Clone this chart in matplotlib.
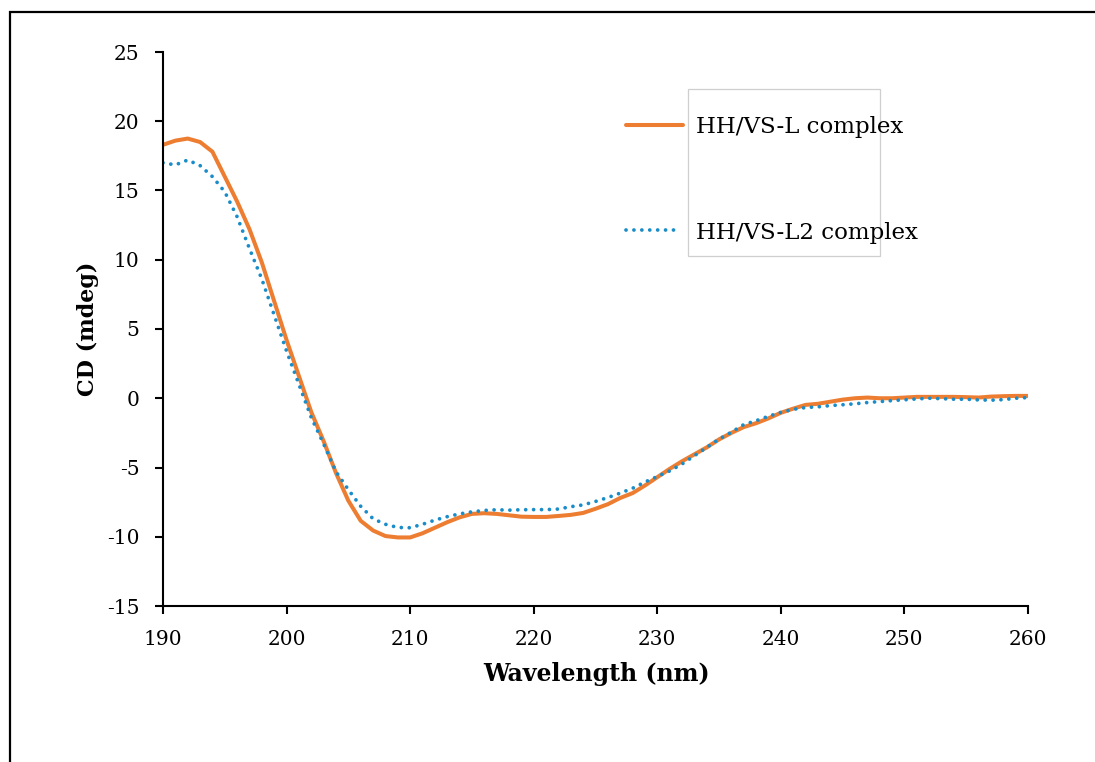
import matplotlib
matplotlib.use("Agg")
import matplotlib.pyplot as plt
from matplotlib.patches import Rectangle
from matplotlib.lines import Line2D
import numpy as np

wavelength = list(range(190, 261))
cd_L = [18.3, 18.6, 18.75, 18.5, 17.8, 16.0, 14.2, 12.2, 9.8, 7.0,
        4.2, 1.6, -1.0, -3.1, -5.4, -7.4, -8.85, -9.55, -9.95, -10.05,
        -10.05, -9.75, -9.35, -8.95, -8.6, -8.35, -8.3, -8.35, -8.45, -8.55,
        -8.57, -8.57, -8.5, -8.42, -8.28, -7.98, -7.65, -7.2, -6.85, -6.3,
        -5.7, -5.1, -4.55, -4.05, -3.55, -2.97, -2.5, -2.08, -1.8, -1.45,
        -1.05, -0.75, -0.48, -0.4, -0.25, -0.1, 0.0, 0.05, 0.0, 0.0,
        0.05, 0.1, 0.1, 0.1, 0.1, 0.08, 0.05, 0.12, 0.15, 0.17, 0.17]
cd_L2 = [17.0, 16.85, 17.2, 16.8, 16.0, 14.9, 13.1, 10.8, 8.6, 6.0,
         3.4, 1.0, -1.4, -3.3, -5.3, -6.6, -7.8, -8.7, -9.1, -9.33,
         -9.35, -9.1, -8.8, -8.55, -8.35, -8.2, -8.1, -8.05, -8.08, -8.05,
         -8.04, -8.04, -8.0, -7.83, -7.7, -7.45, -7.17, -6.85, -6.5, -6.05,
         -5.65, -5.25, -4.75, -4.15, -3.55, -2.95, -2.45, -1.9, -1.62, -1.3,
         -1.02, -0.8, -0.67, -0.62, -0.53, -0.47, -0.4, -0.31, -0.24, -0.17,
         -0.11, -0.05, 0.0, -0.03, -0.07, -0.07, -0.12, -0.14, -0.1, 0.0, 0.05]
series_names = ["HH/VS-L complex", "HH/VS-L2 complex"]
x_ticks = [190, 200, 210, 220, 230, 240, 250, 260]
y_ticks = [-15, -10, -5, 0, 5, 10, 15, 20, 25]

ORANGE = "#ED7D31"
BLUE = "#1A8CC8"

plt.rcParams['font.family'] = ['DejaVu Serif']

W, H = 1095, 762
fig = plt.figure(figsize=(W / 100, H / 100), dpi=100)

def fx(px):
    return px / W

def fy(py):
    return 1 - py / H

ax = fig.add_axes([fx(163), fy(606), fx(1028) - fx(163), fy(52) - fy(606)])

ax.plot(wavelength, cd_L, color=ORANGE, lw=2.9, solid_capstyle='round',
        solid_joinstyle='round')
ax.plot(wavelength, cd_L2, color=BLUE, lw=2.7, dashes=(0.01, 2.1),
        dash_capstyle='round')

ax.set_xlim(190, 260)
ax.set_ylim(-15, 25)
ax.set_xticks(x_ticks)
ax.set_yticks(y_ticks)
ax.set_xticklabels([str(t) for t in x_ticks])
ax.set_yticklabels([str(t) for t in y_ticks])
for s in ['top', 'right']:
    ax.spines[s].set_visible(False)
for s in ['left', 'bottom']:
    ax.spines[s].set_linewidth(1.5)
    ax.spines[s].set_color('black')
ax.tick_params(axis='both', direction='out', length=6, width=1.5,
               labelsize=14.5, colors='black')
ax.tick_params(axis='y', pad=11)
ax.tick_params(axis='x', pad=11)

fig.text(fx(88), fy(329), "CD (mdeg)", rotation=90, ha='center', va='center',
         fontsize=16, fontweight='bold')
fig.text(fx(597), fy(674), "Wavelength (nm)", ha='center', va='center',
         fontsize=17, fontweight='bold')

# legend (drawn manually to match layout)
fig.patches.append(Rectangle((fx(688), fy(256)), fx(880) - fx(688), fy(89) - fy(256),
                             transform=fig.transFigure, fill=False,
                             edgecolor='#CFCFCF', lw=0.9))
fig.lines.append(Line2D([fx(626), fx(683)], [fy(125), fy(125)], transform=fig.transFigure,
                        color=ORANGE, lw=2.9, solid_capstyle='round'))
fig.lines.append(Line2D([fx(626), fx(681)], [fy(230), fy(230)], transform=fig.transFigure,
                        color=BLUE, lw=2.7, dashes=(0.01, 2.1), dash_capstyle='round'))
fig.text(fx(696), fy(127), series_names[0], ha='left', va='center', fontsize=16.5)
fig.text(fx(696), fy(233), series_names[1], ha='left', va='center', fontsize=16.5)

# outer border
fig.patches.append(Rectangle((fx(10), fy(H + 20)), fx(W + 20), fy(12) - fy(H + 20),
                             transform=fig.transFigure, fill=False,
                             edgecolor='black', lw=1.6, clip_on=False))

fig.savefig("out.png", dpi=100)
